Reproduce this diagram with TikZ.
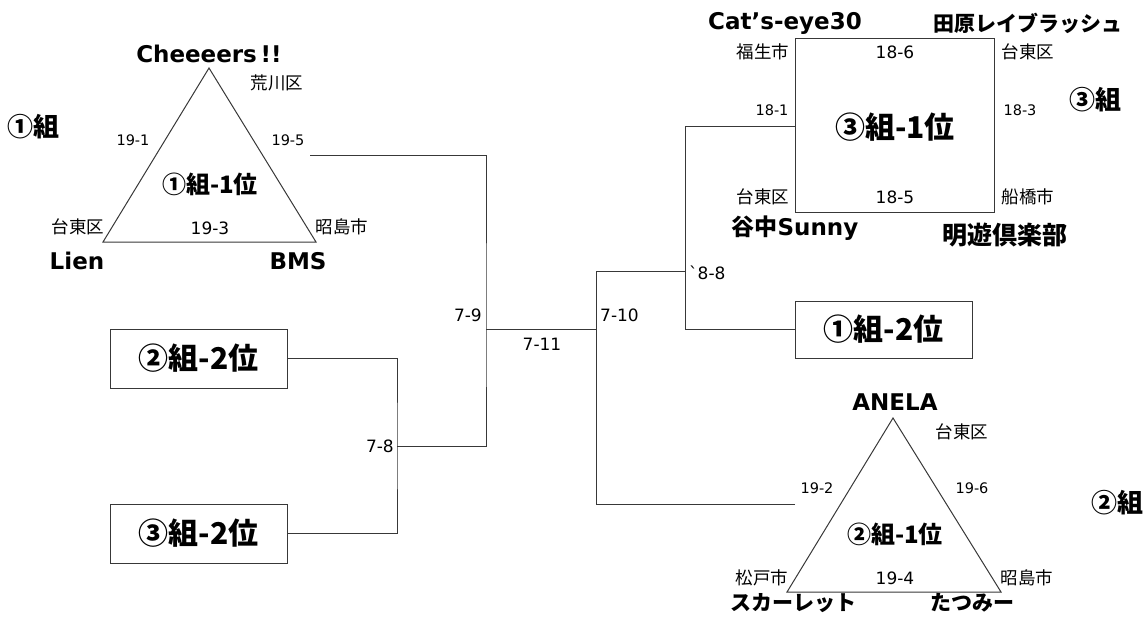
\documentclass[tikz,border=0pt]{standalone}
\usepackage{fontspec}
\setmainfont{DejaVu Sans}
\newfontfamily\jp{Noto Sans CJK JP}
\tikzset{
  ln/.style={draw=black!78, line width=1pt},
  small/.style={inner sep=0pt, font=\fontsize{14.5}{16}\selectfont},
  num/.style={inner sep=0pt, font=\fontsize{17}{19}\selectfont},
  jsmall/.style={inner sep=0pt, font=\jp\fontsize{17.5}{19}\selectfont},
  team/.style={inner sep=0pt, font=\bfseries\fontsize{23}{25}\selectfont},
  jteam/.style={inner sep=0pt, font=\jp\bfseries\fontsize{21}{24}\selectfont},
  grp/.style={inner sep=0pt, font=\jp\bfseries\fontsize{26}{28}\selectfont},
  mid/.style={inner sep=0pt, font=\jp\bfseries\fontsize{24}{26}\selectfont},
  big/.style={inner sep=0pt, font=\jp\bfseries\fontsize{30}{32}\selectfont},
  box/.style={ln, inner sep=0pt, minimum width=177pt, minimum height=58pt, font=\jp\bfseries\fontsize{30}{32}\selectfont},
}
\begin{document}
\begin{tikzpicture}[x=1pt,y=-1pt]
\useasboundingbox (0,0) rectangle (1147,625);
% ---------- group 1 triangle ----------
\coordinate (t1a) at (209,68);
\coordinate (t1l) at (103,242);
\coordinate (t1r) at (316,242);
\draw[ln] (t1a) -- (t1r) -- (t1l) -- cycle;
\node[team] (cheers) at (209,54) {Cheeeers\,!!};
\node[jsmall] (arakawa) at (277,83) {荒川区};
\node[grp] (g1) at (33,127) {①組};
\node[small] (s191) at (133,140) {19-1};
\node[small] (s195) at (288,140) {19-5};
\node[mid] (w1) at (210,184) {①組-1位};
\node[jsmall] (taito1) at (78,227) {台東区};
\node[num] (s193) at (210,228) {19-3};
\node[jsmall] (akishima1) at (342,227) {昭島市};
\node[team] (lien) at (77,261) {Lien};
\node[team] (bms) at (298,261) {BMS};
% ---------- group 3 square ----------
\node[ln, minimum width=199pt, minimum height=174pt, inner sep=0pt] (sq) at (894.5,125) {};
\node[big] (w3) at (895,127) {③組-1位};
\node[team] (cats) at (785,23) {Cat’s-eye30};
\node[jteam] (tahara) at (1028,23) {田原レイブラッシュ};
\node[jsmall] (fussa) at (763,52) {福生市};
\node[num] (s186) at (895,52) {18-6};
\node[jsmall] (taito3a) at (1028,52) {台東区};
\node[small] (s181) at (772,110) {18-1};
\node[small] (s183) at (1020,110) {18-3};
\node[grp] (g3) at (1095,100) {③組};
\node[jsmall] (taito3b) at (763,197) {台東区};
\node[num] (s185) at (895,197) {18-5};
\node[jsmall] (funabashi) at (1028,197) {船橋市};
\node[team] (yanaka) at (795,228) {{\jp\bfseries 谷中}Sunny};
\node[jteam, font=\jp\bfseries\fontsize{25}{26}\selectfont] (meiyu) at (1005,235) {明遊倶楽部};
% ---------- group 2 triangle ----------
\coordinate (t2a) at (893,418);
\coordinate (t2l) at (787,592);
\coordinate (t2r) at (1001,592);
\draw[ln] (t2a) -- (t2r) -- (t2l) -- cycle;
\node[team] (anela) at (895,402) {ANELA};
\node[jsmall] (taito2) at (962,432) {台東区};
\node[small] (s192) at (817,488) {19-2};
\node[small] (s196) at (972,488) {19-6};
\node[grp] (g2) at (1117,503) {②組};
\node[mid] (w2) at (895,534) {②組-1位};
\node[jsmall] (matsudo) at (762,578) {松戸市};
\node[num] (s194) at (895,578) {19-4};
\node[jsmall] (akishima2) at (1027,578) {昭島市};
\node[jteam] (scarlet) at (793,603) {スカーレット};
\node[jteam] (tatsumi) at (972,603) {たつみー};
% ---------- second-place boxes ----------
\node[box, minimum height=59pt] (b2) at (198.5,358.5) {②組-2位};
\node[box, minimum height=59pt] (b3) at (198.5,533.5) {③組-2位};
\node[box, minimum height=57pt] (b1) at (883.5,329.5) {①組-2位};
% ---------- bracket ----------
\coordinate (e1) at (310,155);
\coordinate (j9) at (486,329);
\coordinate (j8) at (397,446);
\coordinate (j10) at (596,329);
\coordinate (e2) at (795,504);
\coordinate (j88) at (685,271);
\draw[ln] (b2.east) -| (j8) |- (b3.east);
\draw[ln] (j8) -- (486,446) -- (j9) -- (486,155) -- (e1);
\draw[ln] (j9) -- (j10);
\draw[ln] (e2) -| (j10) |- (j88);
\draw[ln] (sq.west |- 0,126) -| (j88) |- (b1.west);
\node[num, anchor=east] (l78) at (394,446) {7-8};
\node[num, anchor=east] (l79) at (482,315) {7-9};
\node[num] (l711) at (542,344) {7-11};
\node[num, anchor=west] (l710) at (600,315) {7-10};
\node[num, anchor=west] (l88) at (689,273) {\addfontfeatures{Ligatures=TeXOff}`8-8};
\end{tikzpicture}
\end{document}
